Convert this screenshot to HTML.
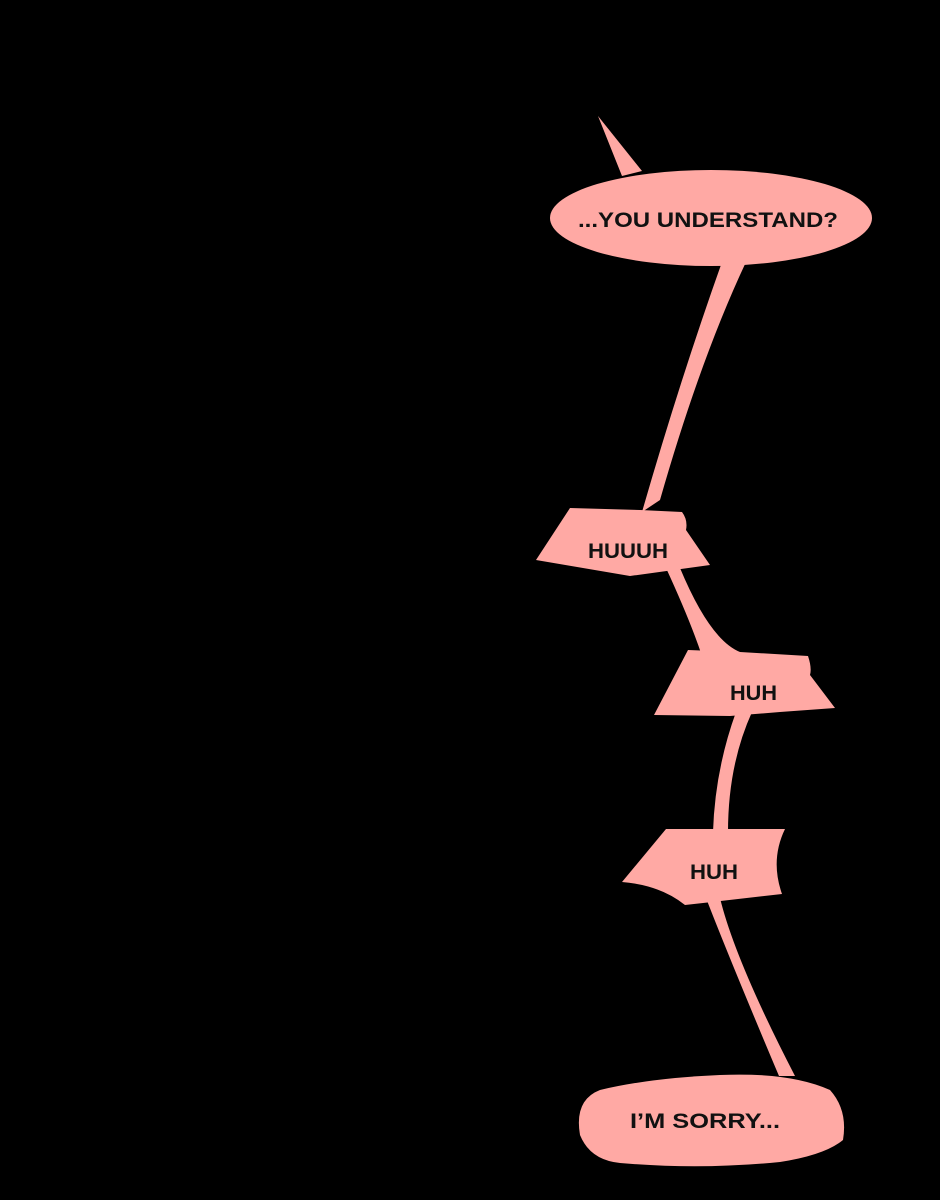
<!DOCTYPE html>
<html><head><meta charset="utf-8"><style>
html,body{margin:0;padding:0;background:#000;width:940px;height:1200px;overflow:hidden}
svg{display:block}
text{font-family:"Liberation Sans",sans-serif;font-size:21px;fill:#111;font-weight:bold}
</style></head><body>
<svg width="940" height="1200" viewBox="0 0 940 1200" xmlns="http://www.w3.org/2000/svg">
<rect width="940" height="1200" fill="#000"/>
<g fill="#FFA9A4">
<path d="M598,116 L642,171 L622,176 Z"/>
<ellipse cx="711" cy="218" rx="161" ry="48"/>
<path d="M722,262 L746,262 Q700,360 660,500 L642,512 Q680,380 722,262 Z"/>
<path d="M570,508 L640,510 L682,512 Q688,520 686,530 L710,565 L630,576 L536,560 Z"/>
<path d="M666,568 L680,568 Q710,640 740,652 L702,656 Q690,620 666,568 Z"/>
<path d="M688,650 L740,652 L808,656 Q812,668 810,675 L835,708 L780,712 L730,716 L654,715 Z"/>
<path d="M736,712 L752,712 Q728,765 728,832 L713,832 Q715,770 736,712 Z"/>
<path d="M666,829 L785,829 Q770,860 782,894 L712,902 L685,905 Q660,885 622,882 Z"/>
<path d="M706,898 L720,898 Q735,960 795,1076 L779,1076 Q730,960 706,898 Z"/>
<path d="M600,1090 Q650,1078 720,1075 Q790,1072 830,1090 Q848,1110 843,1140 Q825,1155 780,1162 Q700,1170 620,1163 Q590,1160 580,1135 Q574,1100 600,1090 Z"/>
</g>
<text x="578" y="227" textLength="260" lengthAdjust="spacingAndGlyphs">...YOU UNDERSTAND?</text>
<text x="588" y="558" textLength="80" lengthAdjust="spacingAndGlyphs">HUUUH</text>
<text x="730" y="700" textLength="47" lengthAdjust="spacingAndGlyphs">HUH</text>
<text x="690" y="879" textLength="48" lengthAdjust="spacingAndGlyphs">HUH</text>
<text x="630" y="1128" textLength="150" lengthAdjust="spacingAndGlyphs">I’M SORRY...</text>
</svg>
</body></html>
